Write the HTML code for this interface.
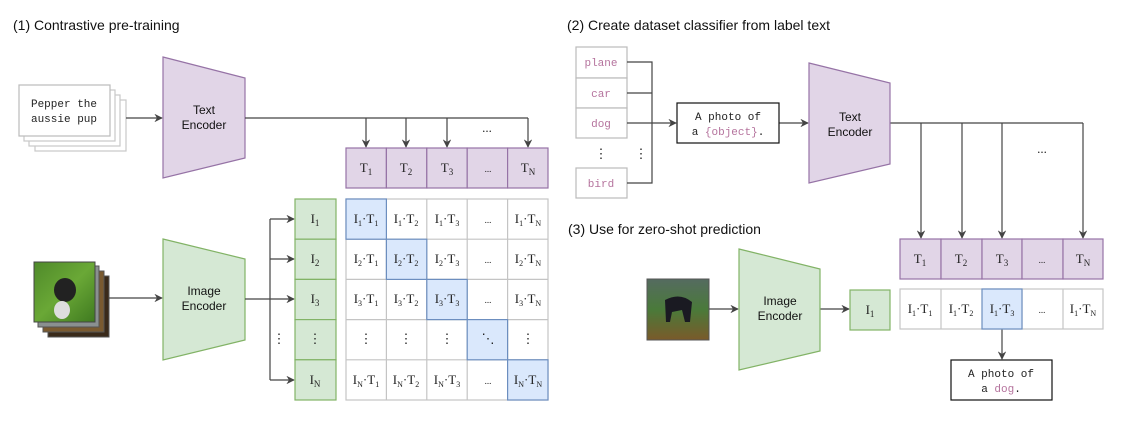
<!DOCTYPE html>
<html><head><meta charset="utf-8"><style>
html,body{margin:0;padding:0;background:#fff;}
svg{display:block;}
.t{font-family:"Liberation Serif",serif;font-size:13px;fill:#222;}
.s{font-family:"Liberation Sans",sans-serif;font-size:12px;fill:#111;}
.m{font-family:"Liberation Mono",monospace;font-size:11px;fill:#222;}
.p{fill:#b5739d;}
.h{font-family:"Liberation Sans",sans-serif;font-size:14px;fill:#111;}
</style></head><body>
<svg width="1132" height="438" viewBox="0 0 1132 438" xmlns="http://www.w3.org/2000/svg">
<defs>
<marker id="a" viewBox="0 0 10 10" refX="9" refY="5" markerWidth="7" markerHeight="7" orient="auto"><path d="M0,0 L10,5 L0,10 L3,5 z" fill="#444"/></marker>
<linearGradient id="g1" x1="0" y1="0" x2="1" y2="1"><stop offset="0" stop-color="#4f8a2a"/><stop offset="0.5" stop-color="#6aa836"/><stop offset="1" stop-color="#3f7a20"/></linearGradient>
<linearGradient id="g2" x1="0" y1="0" x2="0" y2="1"><stop offset="0" stop-color="#556b60"/><stop offset="0.5" stop-color="#4a7a3a"/><stop offset="1" stop-color="#7a5a2a"/></linearGradient>
</defs>
<g fill="none" stroke="#444" stroke-width="1.2">
</g>
<text x="13" y="30" class="h">(1) Contrastive pre-training</text>
<text x="567" y="30" class="h">(2) Create dataset classifier from label text</text>
<text x="568" y="234" class="h">(3) Use for zero-shot prediction</text>

<!-- text cards -->
<g fill="#fff" stroke="#c8c8c8" stroke-width="1.2">
<rect x="35" y="100" width="91" height="51"/>
<rect x="29" y="95" width="91" height="51"/>
<rect x="24" y="90" width="91" height="51"/>
<rect x="19" y="85" width="91" height="51" stroke="#bbb"/>
</g>
<text x="64" y="107" class="m" text-anchor="middle">Pepper the</text>
<text x="64" y="122" class="m" text-anchor="middle">aussie pup</text>

<!-- images section 1 -->
<rect x="48" y="276" width="61" height="61" fill="#3a2a1a" stroke="#555"/>
<rect x="43" y="271" width="61" height="61" fill="#7a5a30" stroke="#555"/>
<rect x="38" y="266" width="61" height="61" fill="#8a9090" stroke="#555"/>
<rect x="34" y="262" width="61" height="60" fill="url(#g1)" stroke="#444"/>
<ellipse cx="65" cy="290" rx="11" ry="12" fill="#222"/>
<ellipse cx="62" cy="310" rx="8" ry="9" fill="#ddd"/>

<!-- Text encoder 1 -->
<polygon points="163,57 245,78 245,158 163,178" fill="#e1d5e7" stroke="#9673a6" stroke-width="1.2"/>
<text x="204" y="114" class="s" text-anchor="middle">Text</text>
<text x="204" y="129" class="s" text-anchor="middle">Encoder</text>
<!-- Image encoder 1 -->
<polygon points="163,239 245,259 245,340 163,360" fill="#d5e8d4" stroke="#82b366" stroke-width="1.2"/>
<text x="204" y="295" class="s" text-anchor="middle">Image</text>
<text x="204" y="310" class="s" text-anchor="middle">Encoder</text>

<g fill="none" stroke="#444" stroke-width="1.2">
<line x1="126" y1="118" x2="162" y2="118" marker-end="url(#a)"/>
<polyline points="245,118 528,118"/>
<line x1="366" y1="118" x2="366" y2="147" marker-end="url(#a)"/>
<line x1="406" y1="118" x2="406" y2="147" marker-end="url(#a)"/>
<line x1="447" y1="118" x2="447" y2="147" marker-end="url(#a)"/>
<line x1="528" y1="118" x2="528" y2="147" marker-end="url(#a)"/>
<line x1="109" y1="298" x2="162" y2="298" marker-end="url(#a)"/>
<line x1="245" y1="299" x2="294" y2="299" marker-end="url(#a)"/>
<line x1="270" y1="219" x2="270" y2="380"/>
<line x1="270" y1="219" x2="294" y2="219" marker-end="url(#a)"/>
<line x1="270" y1="259" x2="294" y2="259" marker-end="url(#a)"/>
<line x1="270" y1="380" x2="294" y2="380" marker-end="url(#a)"/>
</g>
<text x="487" y="132" class="t" font-size="9" text-anchor="middle">...</text>
<text x="279" y="343" class="t" text-anchor="middle">⋮</text>

<!-- T row 1 -->
<g fill="#e1d5e7" stroke="#9673a6" stroke-width="1.2">
<rect x="346" y="148" width="40.4" height="40"/><rect x="386.4" y="148" width="40.4" height="40"/><rect x="426.8" y="148" width="40.4" height="40"/><rect x="467.2" y="148" width="40.4" height="40"/><rect x="507.6" y="148" width="40.4" height="40"/>
</g>
<g class="t" text-anchor="middle">
<text x="366" y="172">T<tspan font-size="9" dy="3">1</tspan></text>
<text x="406" y="172">T<tspan font-size="9" dy="3">2</tspan></text>
<text x="447" y="172">T<tspan font-size="9" dy="3">3</tspan></text>
<text x="488" y="172" font-size="9">...</text>
<text x="528" y="172">T<tspan font-size="9" dy="3">N</tspan></text>
</g>

<!-- I column -->
<g fill="#d5e8d4" stroke="#82b366" stroke-width="1.2">
<rect x="295" y="199" width="41" height="40.2"/><rect x="295" y="239.2" width="41" height="40.2"/><rect x="295" y="279.4" width="41" height="40.2"/><rect x="295" y="319.6" width="41" height="40.2"/><rect x="295" y="359.8" width="41" height="40.2"/>
</g>
<g class="t" text-anchor="middle">
<text x="315" y="223">I<tspan font-size="9" dy="3">1</tspan></text>
<text x="315" y="263">I<tspan font-size="9" dy="3">2</tspan></text>
<text x="315" y="303">I<tspan font-size="9" dy="3">3</tspan></text>
<text x="315" y="343">⋮</text>
<text x="315" y="384">I<tspan font-size="9" dy="3">N</tspan></text>
</g>

<!-- matrix -->
<g fill="#fff" stroke="#c4c4c4" stroke-width="1.2">
<rect x="346" y="199" width="202" height="201"/>
<line x1="386.4" y1="199" x2="386.4" y2="400"/><line x1="426.8" y1="199" x2="426.8" y2="400"/><line x1="467.2" y1="199" x2="467.2" y2="400"/><line x1="507.6" y1="199" x2="507.6" y2="400"/>
<line x1="346" y1="239.2" x2="548" y2="239.2"/><line x1="346" y1="279.4" x2="548" y2="279.4"/><line x1="346" y1="319.6" x2="548" y2="319.6"/><line x1="346" y1="359.8" x2="548" y2="359.8"/>
</g>
<g fill="#dae8fc" stroke="#6c8ebf" stroke-width="1.2">
<rect x="346" y="199" width="40.4" height="40.2"/><rect x="386.4" y="239.2" width="40.4" height="40.2"/><rect x="426.8" y="279.4" width="40.4" height="40.2"/><rect x="467.2" y="319.6" width="40.4" height="40.2"/><rect x="507.6" y="359.8" width="40.4" height="40.2"/>
</g>
<g class="t" text-anchor="middle" font-size="12">
<text x="366" y="223">I<tspan font-size="8" dy="3">1</tspan><tspan dy="-3">·T</tspan><tspan font-size="8" dy="3">1</tspan></text>
<text x="406" y="223">I<tspan font-size="8" dy="3">1</tspan><tspan dy="-3">·T</tspan><tspan font-size="8" dy="3">2</tspan></text>
<text x="447" y="223">I<tspan font-size="8" dy="3">1</tspan><tspan dy="-3">·T</tspan><tspan font-size="8" dy="3">3</tspan></text>
<text x="488" y="223" font-size="9">...</text>
<text x="528" y="223">I<tspan font-size="8" dy="3">1</tspan><tspan dy="-3">·T</tspan><tspan font-size="8" dy="3">N</tspan></text>
<text x="366" y="263">I<tspan font-size="8" dy="3">2</tspan><tspan dy="-3">·T</tspan><tspan font-size="8" dy="3">1</tspan></text>
<text x="406" y="263">I<tspan font-size="8" dy="3">2</tspan><tspan dy="-3">·T</tspan><tspan font-size="8" dy="3">2</tspan></text>
<text x="447" y="263">I<tspan font-size="8" dy="3">2</tspan><tspan dy="-3">·T</tspan><tspan font-size="8" dy="3">3</tspan></text>
<text x="488" y="263" font-size="9">...</text>
<text x="528" y="263">I<tspan font-size="8" dy="3">2</tspan><tspan dy="-3">·T</tspan><tspan font-size="8" dy="3">N</tspan></text>
<text x="366" y="303">I<tspan font-size="8" dy="3">3</tspan><tspan dy="-3">·T</tspan><tspan font-size="8" dy="3">1</tspan></text>
<text x="406" y="303">I<tspan font-size="8" dy="3">3</tspan><tspan dy="-3">·T</tspan><tspan font-size="8" dy="3">2</tspan></text>
<text x="447" y="303">I<tspan font-size="8" dy="3">3</tspan><tspan dy="-3">·T</tspan><tspan font-size="8" dy="3">3</tspan></text>
<text x="488" y="303" font-size="9">...</text>
<text x="528" y="303">I<tspan font-size="8" dy="3">3</tspan><tspan dy="-3">·T</tspan><tspan font-size="8" dy="3">N</tspan></text>
<text x="366" y="343">⋮</text><text x="406" y="343">⋮</text><text x="447" y="343">⋮</text><text x="488" y="343">⋱</text><text x="528" y="343">⋮</text>
<text x="366" y="384">I<tspan font-size="8" dy="3">N</tspan><tspan dy="-3">·T</tspan><tspan font-size="8" dy="3">1</tspan></text>
<text x="406" y="384">I<tspan font-size="8" dy="3">N</tspan><tspan dy="-3">·T</tspan><tspan font-size="8" dy="3">2</tspan></text>
<text x="447" y="384">I<tspan font-size="8" dy="3">N</tspan><tspan dy="-3">·T</tspan><tspan font-size="8" dy="3">3</tspan></text>
<text x="488" y="384" font-size="9">...</text>
<text x="528" y="384">I<tspan font-size="8" dy="3">N</tspan><tspan dy="-3">·T</tspan><tspan font-size="8" dy="3">N</tspan></text>
</g>

<!-- Section 2 -->
<g fill="#fff" stroke="#bbb" stroke-width="1.2">
<rect x="576" y="47" width="51" height="31"/><rect x="576" y="78" width="51" height="30"/><rect x="576" y="108" width="51" height="30"/><rect x="576" y="168" width="51" height="30"/>
</g>
<g class="m p" text-anchor="middle">
<text x="601" y="66" class="m p">plane</text><text x="601" y="97" class="m p">car</text><text x="601" y="127" class="m p">dog</text><text x="601" y="187" class="m p">bird</text>
</g>
<text x="601" y="158" class="t" text-anchor="middle">⋮</text>
<text x="641" y="158" class="t" text-anchor="middle">⋮</text>
<g fill="none" stroke="#444" stroke-width="1.2">
<polyline points="627,62 652,62 652,183 627,183"/>
<line x1="627" y1="93" x2="652" y2="93"/>
<line x1="627" y1="123" x2="676" y2="123" marker-end="url(#a)"/>
<line x1="779" y1="123" x2="808" y2="123" marker-end="url(#a)"/>
<line x1="890" y1="123" x2="1083" y2="123"/>
<line x1="921" y1="123" x2="921" y2="238" marker-end="url(#a)"/>
<line x1="962" y1="123" x2="962" y2="238" marker-end="url(#a)"/>
<line x1="1002" y1="123" x2="1002" y2="238" marker-end="url(#a)"/>
<line x1="1083" y1="123" x2="1083" y2="238" marker-end="url(#a)"/>
<line x1="709" y1="309" x2="738" y2="309" marker-end="url(#a)"/>
<line x1="820" y1="309" x2="849" y2="309" marker-end="url(#a)"/>
<line x1="1002" y1="329" x2="1002" y2="359" marker-end="url(#a)"/>
</g>
<rect x="677" y="103" width="102" height="40" fill="#fff" stroke="#111" stroke-width="1.2"/>
<text x="728" y="120" class="m" text-anchor="middle">A photo of</text>
<text x="728" y="135" class="m" text-anchor="middle">a <tspan class="p">{object}</tspan>.</text>
<polygon points="809,63 890,83 890,164 809,183" fill="#e1d5e7" stroke="#9673a6" stroke-width="1.2"/>
<text x="850" y="121" class="s" text-anchor="middle">Text</text>
<text x="850" y="136" class="s" text-anchor="middle">Encoder</text>
<text x="1042" y="153" class="t" font-size="9" text-anchor="middle">...</text>

<g fill="#e1d5e7" stroke="#9673a6" stroke-width="1.2">
<rect x="900" y="239" width="41" height="40"/><rect x="941" y="239" width="41" height="40"/><rect x="982" y="239" width="40" height="40"/><rect x="1022" y="239" width="41" height="40"/><rect x="1063" y="239" width="40" height="40"/>
</g>
<g class="t" text-anchor="middle">
<text x="920" y="263">T<tspan font-size="9" dy="3">1</tspan></text>
<text x="961" y="263">T<tspan font-size="9" dy="3">2</tspan></text>
<text x="1002" y="263">T<tspan font-size="9" dy="3">3</tspan></text>
<text x="1042" y="263" font-size="9">...</text>
<text x="1083" y="263">T<tspan font-size="9" dy="3">N</tspan></text>
</g>
<g fill="#fff" stroke="#c4c4c4" stroke-width="1.2">
<rect x="900" y="289" width="203" height="40"/>
<line x1="941" y1="289" x2="941" y2="329"/><line x1="1022" y1="289" x2="1022" y2="329"/><line x1="1063" y1="289" x2="1063" y2="329"/>
</g>
<rect x="982" y="289" width="40" height="40" fill="#dae8fc" stroke="#6c8ebf" stroke-width="1.2"/>
<g class="t" text-anchor="middle" font-size="12">
<text x="920" y="313">I<tspan font-size="8" dy="3">1</tspan><tspan dy="-3">·T</tspan><tspan font-size="8" dy="3">1</tspan></text>
<text x="961" y="313">I<tspan font-size="8" dy="3">1</tspan><tspan dy="-3">·T</tspan><tspan font-size="8" dy="3">2</tspan></text>
<text x="1002" y="313">I<tspan font-size="8" dy="3">1</tspan><tspan dy="-3">·T</tspan><tspan font-size="8" dy="3">3</tspan></text>
<text x="1042" y="313" font-size="9">...</text>
<text x="1083" y="313">I<tspan font-size="8" dy="3">1</tspan><tspan dy="-3">·T</tspan><tspan font-size="8" dy="3">N</tspan></text>
</g>

<!-- image 2 -->
<rect x="647" y="279" width="62" height="61" fill="url(#g2)" stroke="#555"/>
<path d="M665,300 Q680,292 692,302 L690,322 L685,322 L682,310 L672,312 L670,322 L666,322 Z" fill="#1a1a22"/>
<polygon points="739,249 820,269 820,351 739,370" fill="#d5e8d4" stroke="#82b366" stroke-width="1.2"/>
<text x="780" y="305" class="s" text-anchor="middle">Image</text>
<text x="780" y="320" class="s" text-anchor="middle">Encoder</text>
<rect x="850" y="290" width="40" height="40" fill="#d5e8d4" stroke="#82b366" stroke-width="1.2"/>
<text x="870" y="314" class="t" text-anchor="middle">I<tspan font-size="9" dy="3">1</tspan></text>

<rect x="951" y="360" width="101" height="40" fill="#fff" stroke="#111" stroke-width="1.2"/>
<text x="1001" y="377" class="m" text-anchor="middle">A photo of</text>
<text x="1001" y="392" class="m" text-anchor="middle">a <tspan class="p">dog</tspan>.</text>
</svg>
</body></html>
